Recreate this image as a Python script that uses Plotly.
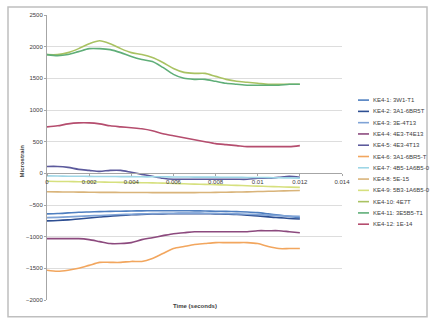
import plotly.graph_objects as go

# Sample times (s)
time_s = [0.0, 0.0005, 0.001, 0.0015, 0.002, 0.0025, 0.003, 0.0035, 0.004, 0.0045,
          0.005, 0.0055, 0.006, 0.0065, 0.007, 0.0075, 0.008, 0.0085, 0.009, 0.0095,
          0.01, 0.0105, 0.011, 0.0115, 0.012]

# Gauge readings (microstrain)
ke4_1 = [-640, -635, -625, -615, -610, -605, -600, -598, -595, -592, -590, -590, -590,
         -590, -592, -595, -598, -600, -605, -610, -620, -640, -660, -680, -700]
ke4_2 = [-750, -745, -735, -720, -705, -690, -675, -665, -655, -648, -642, -640, -638,
         -636, -636, -638, -640, -645, -650, -660, -672, -688, -700, -712, -720]
ke4_3 = [-700, -695, -688, -680, -672, -665, -658, -650, -645, -640, -636, -632, -630,
         -628, -628, -630, -632, -636, -640, -645, -652, -660, -668, -675, -680]
ke4_4 = [-1031, -1031, -1031, -1031, -1047, -1078, -1109, -1109, -1094, -1047, -1016,
         -984, -953, -938, -922, -922, -922, -922, -922, -922, -906, -906, -906, -922, -938]
ke4_5 = [109, 109, 94, 63, 47, 31, 47, 47, 16, -16, -47, -78, -94, -94, -94, -94, -94,
         -94, -94, -94, -78, -78, -63, -47, -63]
ke4_6 = [-1531, -1547, -1531, -1500, -1453, -1406, -1406, -1406, -1391, -1391, -1344,
         -1266, -1188, -1156, -1125, -1109, -1094, -1094, -1094, -1094, -1109, -1156,
         -1188, -1188, -1188]
ke4_7 = [-40, -42, -45, -45, -48, -50, -50, -52, -52, -55, -55, -55, -58, -58, -60, -60,
         -60, -62, -62, -65, -65, -68, -70, -72, -75]
ke4_8 = [-290, -292, -295, -296, -298, -300, -300, -302, -302, -303, -304, -305, -305,
         -305, -304, -303, -300, -298, -295, -292, -288, -284, -280, -275, -270]
ke4_9 = [-125, -128, -130, -132, -135, -138, -140, -142, -145, -148, -150, -155, -160,
         -165, -170, -175, -180, -185, -190, -196, -202, -208, -213, -218, -222]
ke4_10 = [1875, 1875, 1906, 1969, 2047, 2094, 2047, 1969, 1906, 1875, 1828, 1750, 1656,
          1594, 1578, 1578, 1531, 1484, 1453, 1438, 1422, 1406, 1406, 1406, 1406]
ke4_11 = [1875, 1859, 1875, 1922, 1969, 1969, 1953, 1906, 1844, 1797, 1766, 1672, 1563,
          1500, 1484, 1484, 1453, 1422, 1406, 1391, 1391, 1391, 1391, 1406, 1406]
ke4_12 = [734, 750, 781, 797, 797, 781, 750, 734, 719, 703, 672, 625, 594, 563, 531,
          500, 469, 453, 438, 422, 422, 422, 422, 422, 438]

series_names = ["KE4-1: 3W1-T1", "KE4-2: 3A1-6BR5T", "KE4-3: 3E-4T13", "KE4-4: 4E3-T4E13",
                "KE4-5: 4E3-4T13", "KE4-6: 3A1-6BR5-T", "KE4-7: 4B5-1A6B5-0", "KE4-8: 5E-15",
                "KE4-9: 5B3-1A6B5-0", "KE4-10: 4E7T", "KE4-11: 3E5B5-T1", "KE4-12: 1E-14"]
series_values = [ke4_1, ke4_2, ke4_3, ke4_4, ke4_5, ke4_6, ke4_7, ke4_8, ke4_9,
                 ke4_10, ke4_11, ke4_12]
series_colors = ["#4F7FC0", "#2E4F92", "#7FA3D6", "#8C4A7E", "#5C5A9C", "#F2A65E",
                 "#9ED6E6", "#D9B47A", "#D6E07E", "#A9C262", "#5FAE78", "#B54D6E"]

y_ticks = [2500, 2000, 1500, 1000, 500, 0, -500, -1000, -1500, -2000]
x_ticks = [0, 0.002, 0.004, 0.006, 0.008, 0.01, 0.012, 0.014]
x_tick_text = ["0", "0.002", "0.004", "0.006", "0.008", "0.01", "0.012", "0.014"]

W, H = 430, 320
L, R, T, B = 47, 88, 12, 20
pw, ph = W - L - R, H - T - B


def px_x(x):
    return (x - L) / pw


def px_y(y):
    return (H - B - y) / ph


fig = go.Figure()
for name, vals, col in zip(series_names, series_values, series_colors):
    fig.add_trace(go.Scatter(x=time_s, y=vals, name=name, mode="lines",
                             line=dict(color=col, width=1.6, shape="spline", smoothing=0.8),
                             showlegend=False))

# Compact legend drawn beside the plot
for i, (name, col) in enumerate(zip(series_names, series_colors)):
    yy = 98 + i * 11.4
    fig.add_shape(type="line", xref="paper", yref="paper",
                  x0=px_x(358), x1=px_x(369), y0=px_y(yy), y1=px_y(yy),
                  line=dict(color=col, width=1.6))
    fig.add_annotation(xref="paper", yref="paper", x=px_x(371), y=px_y(yy),
                       text=name, showarrow=False, xanchor="left", yanchor="middle",
                       font=dict(size=6, color="#404040"))

# Axis titles
fig.add_annotation(xref="paper", yref="paper", x=0.5, y=px_y(306), text="<b>Time (seconds)</b>",
                   showarrow=False, xanchor="center", yanchor="middle",
                   font=dict(size=6, color="#404040"))
fig.add_annotation(xref="paper", yref="paper", x=px_x(22), y=px_y(160), text="<b>Microstrain</b>",
                   showarrow=False, textangle=-90, xanchor="center", yanchor="middle",
                   font=dict(size=6, color="#404040"))

# Chart border
fig.add_shape(type="rect", xref="paper", yref="paper",
              x0=px_x(8), x1=px_x(427), y0=px_y(317), y1=px_y(4),
              line=dict(color="#BFBFBF", width=1.5))

fig.update_layout(
    width=W, height=H,
    margin=dict(l=L, r=R, t=T, b=B),
    paper_bgcolor="white", plot_bgcolor="white",
    font=dict(family="Liberation Sans, Arial, sans-serif", size=6, color="#404040"),
    xaxis=dict(range=[0, 0.014], tickvals=x_ticks, ticktext=x_tick_text,
               anchor="free", position=2000 / 4500, showgrid=False, zeroline=False,
               showline=True, linecolor="#A6A6A6", linewidth=1,
               ticks="outside", ticklen=2, tickcolor="#A6A6A6",
               tickfont=dict(size=6, color="#404040")),
    yaxis=dict(range=[-2000, 2500], tickvals=y_ticks, showgrid=True, gridcolor="#DDDDDD",
               gridwidth=1, zeroline=False, showline=True, linecolor="#A6A6A6",
               ticks="outside", ticklen=2, tickcolor="#A6A6A6",
               tickfont=dict(size=6, color="#404040")),
)

fig.write_html("out.html")
